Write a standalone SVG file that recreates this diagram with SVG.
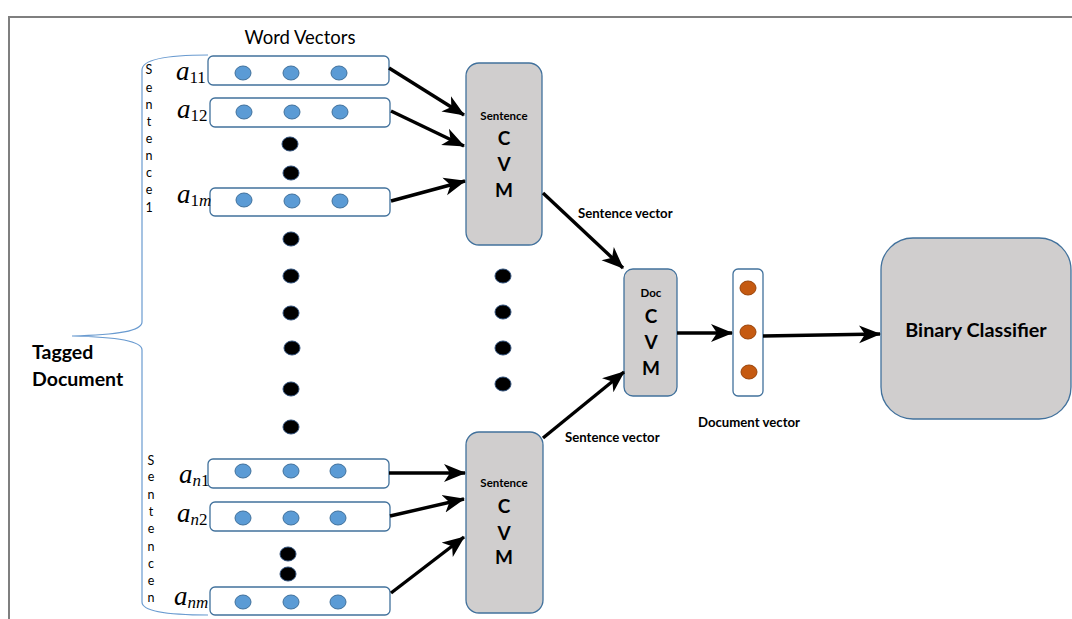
<svg xmlns="http://www.w3.org/2000/svg" width="1072" height="619" viewBox="0 0 1072 619">
<style>
.vec{fill:#fff;stroke:#41719c;stroke-width:1.3}
.bd{fill:#5b9bd5;stroke:#41719c;stroke-width:1}
.od{fill:#c55a11;stroke:#9a4409;stroke-width:1}
.kd{fill:#000;stroke:#2e4e78;stroke-width:1}
.proc{fill:#d0cece;stroke:#41719c;stroke-width:1.3}
.ar{stroke:#000;stroke-width:3.4;fill:none;marker-end:url(#ah)}
.t{font-family:Lato,"Liberation Sans",sans-serif;fill:#000}
.b{font-weight:bold}
.m{font-family:"Liberation Serif","DejaVu Serif",serif;font-style:italic;fill:#000}
</style>
<defs>
<marker id="ah" markerUnits="userSpaceOnUse" markerWidth="22" markerHeight="20" viewBox="0 0 22 20" refX="21" refY="10" orient="auto">
<path d="M0,1 L22,10 L0,19 L6,10 z" fill="#000"/>
</marker>
</defs>
<rect width="1072" height="619" fill="#fff"/>
<g id="frame">
<path d="M9,619 L9,17 L1072,17" fill="none" stroke="#7f7f7f" stroke-width="2"/>
</g>
<g id="title"><text class="t" x="300" y="44" font-size="18.5" text-anchor="middle">Word Vectors</text></g>
<g id="brace">
<path d="M208,55 C170,55 142,59 142,70 L142,322 C142,331 118,335 72,336 C118,337 142,341 142,350 L142,602 C142,612 170,615 208,615" fill="none" stroke="#6a9bd0" stroke-width="1.2"/>
<text class="t" font-size="12.5" text-anchor="middle">
<tspan x="149" y="74">S</tspan><tspan x="149" y="92">e</tspan><tspan x="149" y="109">n</tspan><tspan x="149" y="126">t</tspan><tspan x="149" y="143">e</tspan><tspan x="149" y="160">n</tspan><tspan x="149" y="177">c</tspan><tspan x="149" y="194">e</tspan><tspan x="149" y="212">1</tspan>
</text>
<text class="t" font-size="12.5" text-anchor="middle">
<tspan x="151" y="465">S</tspan><tspan x="151" y="481">e</tspan><tspan x="151" y="499">n</tspan><tspan x="151" y="516">t</tspan><tspan x="151" y="533">e</tspan><tspan x="151" y="551">n</tspan><tspan x="151" y="568">c</tspan><tspan x="151" y="585">e</tspan><tspan x="151" y="602">n</tspan>
</text>
<text class="t b" font-size="19.5"><tspan x="32" y="359">Tagged</tspan><tspan x="32" y="386">Document</tspan></text>
</g>
<g id="a11">
<rect class="vec" x="208" y="56" width="181" height="29" rx="5"/>
<ellipse class="bd" cx="243" cy="73" rx="8" ry="7"/><ellipse class="bd" cx="291" cy="73" rx="8" ry="7"/><ellipse class="bd" cx="339" cy="73" rx="8" ry="7"/>
<text class="m" x="176" y="80" font-size="27">a<tspan font-size="17" dy="3" font-style="normal">11</tspan></text>
</g>
<g id="a12">
<rect class="vec" x="210" y="98" width="180" height="29" rx="5"/>
<ellipse class="bd" cx="244" cy="112" rx="8" ry="7"/><ellipse class="bd" cx="292" cy="112" rx="8" ry="7"/><ellipse class="bd" cx="340" cy="112" rx="8" ry="7"/>
<text class="m" x="177" y="118" font-size="27">a<tspan font-size="17" dy="3" font-style="normal">12</tspan></text>
</g>
<g id="a1m">
<rect class="vec" x="210" y="188" width="180" height="28" rx="5"/>
<ellipse class="bd" cx="244" cy="200" rx="8" ry="7"/><ellipse class="bd" cx="292" cy="201" rx="8" ry="7"/><ellipse class="bd" cx="340" cy="201" rx="8" ry="7"/>
<text class="m" x="177" y="203" font-size="27">a<tspan font-size="17" dy="3"><tspan font-style="normal">1</tspan>m</tspan></text>
</g>
<g id="an1">
<rect class="vec" x="208" y="459" width="181" height="29" rx="5"/>
<ellipse class="bd" cx="243" cy="471" rx="8" ry="7"/><ellipse class="bd" cx="291" cy="471" rx="8" ry="7"/><ellipse class="bd" cx="338" cy="471" rx="8" ry="7"/>
<text class="m" x="179" y="483" font-size="27">a<tspan font-size="17" dy="3">n<tspan font-style="normal">1</tspan></tspan></text>
</g>
<g id="an2">
<rect class="vec" x="210" y="502" width="180" height="29" rx="5"/>
<ellipse class="bd" cx="243" cy="518" rx="8" ry="7"/><ellipse class="bd" cx="291" cy="518" rx="8" ry="7"/><ellipse class="bd" cx="338" cy="518" rx="8" ry="7"/>
<text class="m" x="177" y="522" font-size="27">a<tspan font-size="17" dy="3">n<tspan font-style="normal">2</tspan></tspan></text>
</g>
<g id="anm">
<rect class="vec" x="210" y="587" width="180" height="28" rx="5"/>
<ellipse class="bd" cx="243" cy="602" rx="8" ry="7"/><ellipse class="bd" cx="291" cy="602" rx="8" ry="7"/><ellipse class="bd" cx="338" cy="602" rx="8" ry="7"/>
<text class="m" x="174" y="605" font-size="27">a<tspan font-size="17" dy="3">nm</tspan></text>
</g>
<g id="ellipsis-dots">
<ellipse class="kd" cx="290" cy="144" rx="8" ry="7"/><ellipse class="kd" cx="291" cy="173" rx="8" ry="7"/>
<ellipse class="kd" cx="291" cy="239" rx="8" ry="7"/><ellipse class="kd" cx="291" cy="276" rx="8" ry="7"/><ellipse class="kd" cx="291" cy="313" rx="8" ry="7"/><ellipse class="kd" cx="292" cy="348" rx="8" ry="7"/><ellipse class="kd" cx="291" cy="389" rx="8" ry="7"/><ellipse class="kd" cx="291" cy="427" rx="8" ry="7"/>
<ellipse class="kd" cx="503" cy="276" rx="8" ry="7"/><ellipse class="kd" cx="503" cy="312" rx="8" ry="7"/><ellipse class="kd" cx="503" cy="348" rx="8" ry="7"/><ellipse class="kd" cx="503" cy="384" rx="8" ry="7"/>
<ellipse class="kd" cx="288" cy="554" rx="8" ry="7"/><ellipse class="kd" cx="288" cy="574" rx="8" ry="7"/>
</g>
<g id="sentence-cvm-1">
<rect class="proc" x="466" y="63" width="76" height="182" rx="13"/>
<text class="t b" x="504" y="120" font-size="11.5" text-anchor="middle">Sentence</text>
<text class="t b" font-size="19" text-anchor="middle"><tspan x="504" y="145">C</tspan><tspan x="504" y="171">V</tspan><tspan x="504" y="197">M</tspan></text>
</g>
<g id="sentence-cvm-n">
<rect class="proc" x="466" y="432" width="77" height="181" rx="13"/>
<text class="t b" x="504" y="487" font-size="11.5" text-anchor="middle">Sentence</text>
<text class="t b" font-size="19" text-anchor="middle"><tspan x="504" y="513">C</tspan><tspan x="504" y="540">V</tspan><tspan x="504" y="564">M</tspan></text>
</g>
<g id="doc-cvm">
<rect class="proc" x="624" y="269" width="53" height="127" rx="9"/>
<text class="t b" x="651" y="297" font-size="11.5" text-anchor="middle">Doc</text>
<text class="t b" font-size="19" text-anchor="middle"><tspan x="651" y="323">C</tspan><tspan x="651" y="349">V</tspan><tspan x="651" y="375">M</tspan></text>
</g>
<g id="document-vector">
<rect class="vec" x="733" y="269" width="30" height="127" rx="5"/>
<ellipse class="od" cx="748" cy="288" rx="8" ry="7"/><ellipse class="od" cx="748" cy="332" rx="8" ry="7"/><ellipse class="od" cx="749" cy="372" rx="8" ry="7"/>
<text class="t b" x="749" y="427" font-size="13.2" text-anchor="middle">Document vector</text>
</g>
<g id="binary-classifier">
<rect class="proc" x="881" y="238" width="190" height="181" rx="32"/>
<text class="t b" x="976" y="337" font-size="19.8" text-anchor="middle">Binary Classifier</text>
</g>
<g id="connectors">
<line class="ar" x1="389" y1="68" x2="464" y2="115"/>
<line class="ar" x1="391" y1="111" x2="464" y2="146"/>
<line class="ar" x1="391" y1="201" x2="465" y2="181"/>
<line class="ar" x1="543" y1="193" x2="623" y2="268"/>
<line class="ar" x1="543" y1="438" x2="624" y2="372"/>
<line class="ar" x1="677" y1="333" x2="732" y2="333"/>
<line class="ar" x1="763" y1="336" x2="880" y2="334"/>
<line class="ar" x1="389" y1="473" x2="465" y2="473"/>
<line class="ar" x1="390" y1="516" x2="464" y2="499"/>
<line class="ar" x1="391" y1="593" x2="464" y2="537"/>
<text class="t b" x="578" y="218" font-size="13.2">Sentence vector</text>
<text class="t b" x="565" y="442" font-size="13.2">Sentence vector</text>
</g>
</svg>
